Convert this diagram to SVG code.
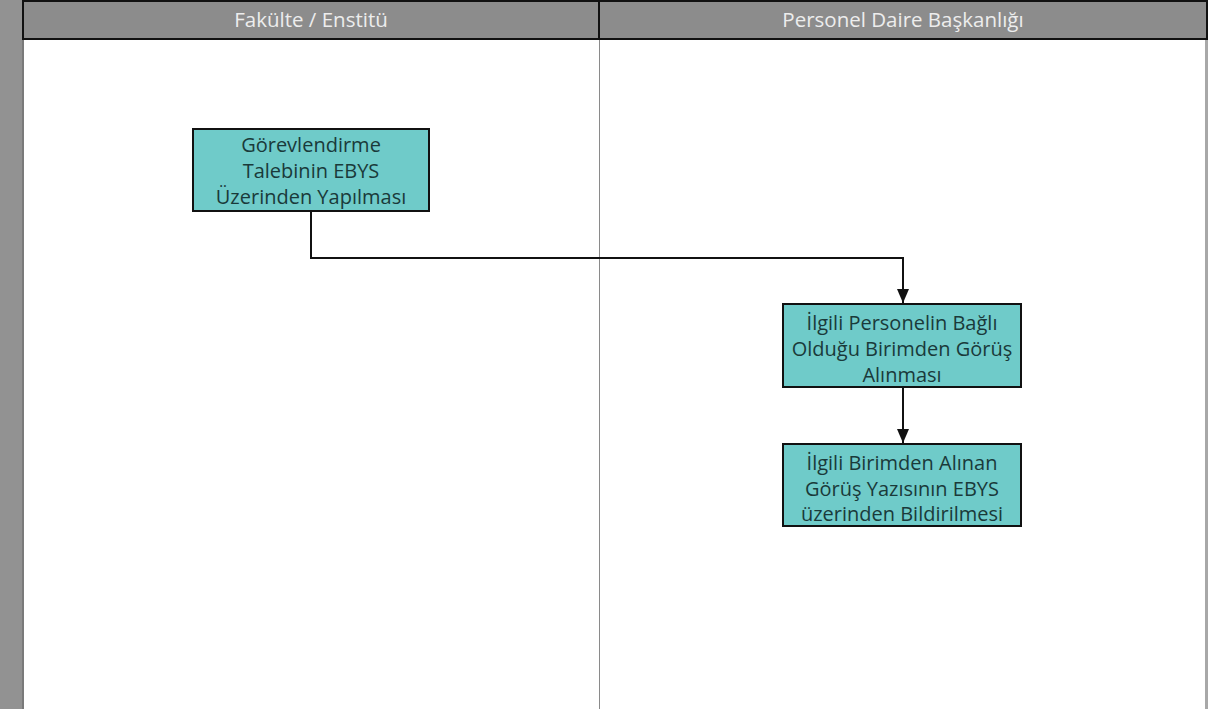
<svg xmlns="http://www.w3.org/2000/svg" width="1208" height="709" viewBox="0 0 1208 709">
<style>
.hdr{font-family:"Open Sans","Liberation Sans",sans-serif;font-size:20.5px;fill:#ededed;text-anchor:middle;dominant-baseline:central}
.box{fill:#6fcbc9;stroke:#111;stroke-width:2}
.t{font-family:"Open Sans","Liberation Sans",sans-serif;font-size:20px;fill:#1a3a3a;text-anchor:middle;dominant-baseline:central}
.c{fill:none;stroke:#111;stroke-width:2}
</style>
<defs>
<marker id="arr" viewBox="0 0 14 12" refX="14" refY="6" markerWidth="14" markerHeight="12" markerUnits="userSpaceOnUse" orient="auto">
<path d="M0,0 L14,6 L0,12 z" fill="#111"/>
</marker>
</defs>
<rect x="0" y="0" width="1208" height="709" fill="#ffffff"/>
<g id="frame">
<rect x="0" y="0" width="23" height="709" fill="#929292"/>
<line x1="23" y1="0" x2="23" y2="709" stroke="#7a7a7a" stroke-width="2"/>
<line x1="1206.5" y1="0" x2="1206.5" y2="709" stroke="#a8a8a8" stroke-width="3"/>
<rect x="23" y="1" width="1184" height="38" fill="#8c8c8c" stroke="#111" stroke-width="2"/>
<line x1="599" y1="0" x2="599" y2="39" stroke="#111" stroke-width="2"/>
<line x1="599.5" y1="40" x2="599.5" y2="709" stroke="#8a8a8a" stroke-width="1"/>
<text class="hdr" x="311" y="19">Fakülte / Enstitü</text>
<text class="hdr" x="903" y="19">Personel Daire Başkanlığı</text>
</g>
<g id="connectors">
<polyline class="c" points="311,211 311,258 903,258 903,303" marker-end="url(#arr)"/>
<line class="c" x1="903" y1="387" x2="903" y2="443" marker-end="url(#arr)"/>
</g>
<g id="n1">
<rect class="box" x="193" y="129" width="236" height="82"/>
<text class="t" x="311" y="144">Görevlendirme</text>
<text class="t" x="311" y="170">Talebinin EBYS</text>
<text class="t" x="311" y="196">Üzerinden Yapılması</text>
</g>
<g id="n2">
<rect class="box" x="783" y="304" width="238" height="83"/>
<text class="t" x="902" y="322">İlgili Personelin Bağlı</text>
<text class="t" x="902" y="348">Olduğu Birimden Görüş</text>
<text class="t" x="902" y="374">Alınması</text>
</g>
<g id="n3">
<rect class="box" x="783" y="444" width="238" height="82"/>
<text class="t" x="902" y="462">İlgili Birimden Alınan</text>
<text class="t" x="902" y="488">Görüş Yazısının EBYS</text>
<text class="t" x="902" y="513">üzerinden Bildirilmesi</text>
</g>
</svg>
